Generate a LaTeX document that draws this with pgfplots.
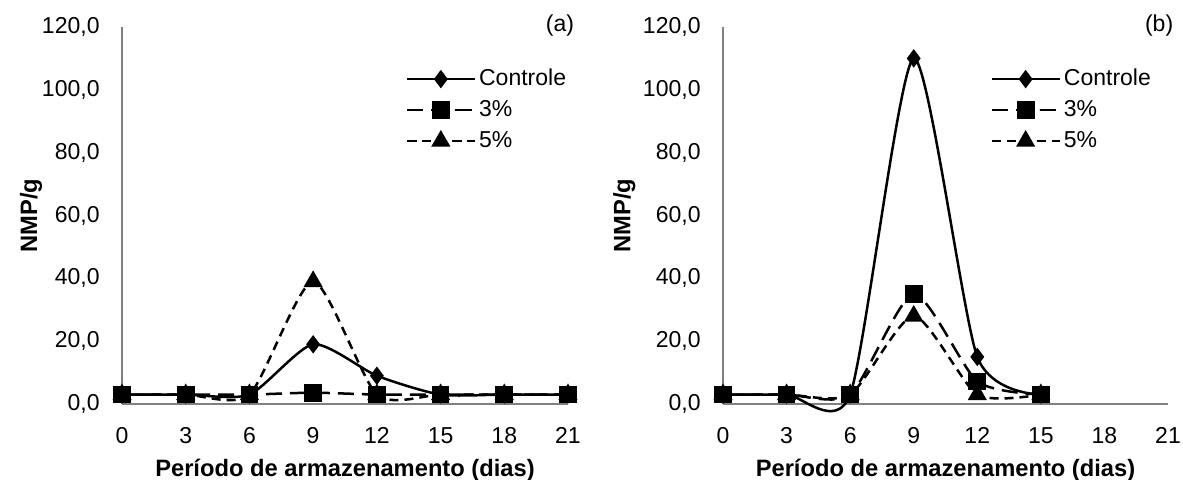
\documentclass[border=0pt]{standalone}
\usepackage{fontspec}
\setmainfont{Liberation Sans}
\usepackage{pgfplots}
\usepackage{pgfplotstable}
\pgfplotsset{compat=1.18}

\newcommand\tfont{\fontsize{11.55}{13.8}\selectfont}
\newcommand\lfont{\fontsize{11.9}{14}\selectfont\bfseries}

\pgfplotstableread{
x c p3 p5
0 3 3 3
3 3 3 3
6 3 3 3
9 19 3.6 39
12 9 3 3
15 3 3 3
18 3 3 3
21 3 3 3
}\dataA

\pgfplotstableread{
x c p3 p5
0 3 3 3
3 3 3 3
6 3 3 3
9 110 35 28
12 15 7.2 3
15 3 3 3
}\dataB

\pgfplotsset{
 panel/.style={
  scale only axis, width=223bp, height=188.5bp,
  xmin=0, xmax=21, ymin=0, ymax=120,
  xtick={0,3,...,21}, xticklabels={0,3,6,9,12,15,18,21},
  ytick={0,20,...,120},
  axis x line*=bottom, axis y line*=left,
  axis line style={draw=gray, line width=0.6bp, -},
  major tick length=0pt,
  tick label style={font=\tfont},
  /pgf/number format/assume math mode=true,
  yticklabel style={/pgf/number format/use comma, /pgf/number format/fixed, /pgf/number format/fixed zerofill, /pgf/number format/precision=1},
  every y tick label/.append style={xshift=-7.7bp},
  every x tick label/.append style={yshift=-8bp, text height=8.2bp, text depth=0pt},
  xlabel={Período de armazenamento (dias)},
  ylabel={NMP/g},
  every axis x label/.style={at={(axis description cs:0.5,0)}, anchor=base, yshift=-36bp, font=\lfont},
  every axis y label/.style={at={(axis description cs:-0.204,0.5)}, anchor=center, rotate=90, font=\lfont},
  clip=false,
  legend cell align=left,
  legend style={draw=none, fill=none, anchor=north west, inner sep=0pt, row sep=1.5bp, column sep=0bp,
     font=\tfont,
     nodes={inner sep=1.5bp, text height=8.5bp, text depth=2.5bp}},
  legend image code/.code={\draw[mark repeat=2,mark phase=2] plot coordinates {(0bp,0bp) (17bp,0bp) (34bp,0bp)};},
 },
 sc/.style={black, line width=1.25bp, smooth, tension=0.4, mark=diamond*, mark size=3.6bp, mark options={solid, fill=black}},
 s3/.style={black, line width=1.25bp, dash pattern=on 8bp off 4bp, smooth, tension=0.4, mark=square*, mark size=3.8bp, mark options={solid, fill=black}},
 s5/.style={black, line width=1.25bp, dash pattern=on 4.5bp off 3bp, smooth, tension=0.4, mark=triangle*, mark size=4.3bp, mark options={solid, fill=black}},
}

\begin{document}
\begin{tikzpicture}
\useasboundingbox (0,0) rectangle (591.5bp,240bp);
\begin{axis}[panel, at={(61bp,38bp)}, anchor=south west,
  legend style={at={(rel axis cs:0.635,0.9)}}]
\addplot[sc] table[x=x,y=c]{\dataA};
\addlegendentry{Controle}
\addplot[s3] table[x=x,y=p3]{\dataA};
\addlegendentry{3\%}
\addplot[s5] table[x=x,y=p5]{\dataA};
\addlegendentry{5\%}
\node[font=\tfont] at (rel axis cs:0.982,1.005) {(a)};
\end{axis}
\begin{axis}[panel, at={(361.5bp,38bp)}, anchor=south west, width=222.5bp,
  legend style={at={(rel axis cs:0.6,0.9)}},
  every axis y label/.style={at={(axis description cs:-0.222,0.5)}, anchor=center, rotate=90, font=\lfont}]
\addplot[sc] table[x=x,y=c]{\dataB};
\addlegendentry{Controle}
\addplot[s3] table[x=x,y=p3]{\dataB};
\addlegendentry{3\%}
\addplot[s5] table[x=x,y=p5]{\dataB};
\addlegendentry{5\%}
\node[font=\tfont] at (rel axis cs:0.98,1.005) {(b)};
\end{axis}
\end{tikzpicture}
\end{document}
